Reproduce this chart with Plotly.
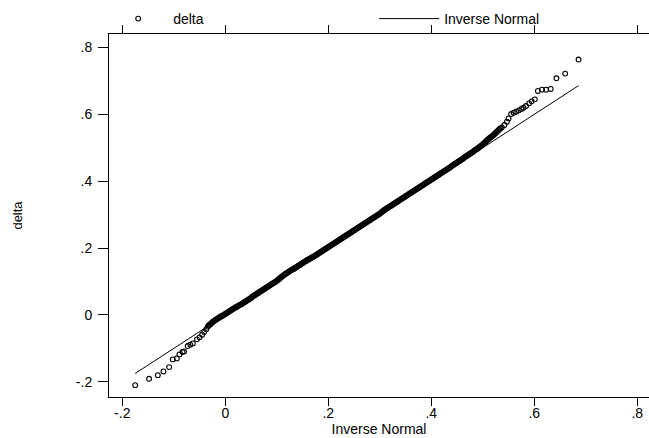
import plotly.graph_objects as go

# ---- data (qnorm plot of delta) ----
lower_x = [-0.175, -0.148, -0.131, -0.120, -0.109, -0.102, -0.094, -0.089, -0.083, -0.080,
           -0.073, -0.068, -0.063, -0.055, -0.050, -0.045, -0.041, -0.037, -0.034, -0.032]
lower_y = [-0.210, -0.191, -0.180, -0.169, -0.156, -0.133, -0.130, -0.118, -0.111, -0.109,
           -0.093, -0.089, -0.085, -0.073, -0.067, -0.059, -0.051, -0.043, -0.035, -0.031]

mid_x = [-0.030, -0.028, -0.026, -0.024, -0.022, -0.020, -0.018, -0.016, -0.014, -0.012,
         -0.010, -0.008, -0.006, -0.004, -0.002, 0.000, 0.002, 0.004, 0.006, 0.008,
         0.010, 0.012, 0.014, 0.016, 0.018, 0.020, 0.022, 0.024, 0.026, 0.028,
         0.030, 0.032, 0.034, 0.036, 0.038, 0.040, 0.042, 0.044, 0.046, 0.048,
         0.050, 0.052, 0.054, 0.056, 0.058, 0.060, 0.062, 0.064, 0.066, 0.068,
         0.070, 0.072, 0.074, 0.076, 0.078, 0.080, 0.082, 0.084, 0.086, 0.088,
         0.090, 0.092, 0.094, 0.096, 0.098, 0.100, 0.102, 0.104, 0.106, 0.108,
         0.110, 0.112, 0.114, 0.116, 0.118, 0.120, 0.122, 0.124, 0.126, 0.128,
         0.130, 0.132, 0.134, 0.136, 0.138, 0.140, 0.142, 0.144, 0.146, 0.148,
         0.150, 0.152, 0.154, 0.156, 0.158, 0.160, 0.162, 0.164, 0.166, 0.168,
         0.170, 0.172, 0.174, 0.176, 0.178, 0.180, 0.182, 0.184, 0.186, 0.188,
         0.190, 0.192, 0.194, 0.196, 0.198, 0.200, 0.202, 0.204, 0.206, 0.208,
         0.210, 0.212, 0.214, 0.216, 0.218, 0.220, 0.222, 0.224, 0.226, 0.228,
         0.230, 0.232, 0.234, 0.236, 0.238, 0.240, 0.242, 0.244, 0.246, 0.248,
         0.250, 0.252, 0.254, 0.256, 0.258, 0.260, 0.262, 0.264, 0.266, 0.268,
         0.270, 0.272, 0.274, 0.276, 0.278, 0.280, 0.282, 0.284, 0.286, 0.288,
         0.290, 0.292, 0.294, 0.296, 0.298, 0.300, 0.302, 0.304, 0.306, 0.308,
         0.310, 0.312, 0.314, 0.316, 0.318, 0.320, 0.322, 0.324, 0.326, 0.328,
         0.330, 0.332, 0.334, 0.336, 0.338, 0.340, 0.342, 0.344, 0.346, 0.348,
         0.350, 0.352, 0.354, 0.356, 0.358, 0.360, 0.362, 0.364, 0.366, 0.368,
         0.370, 0.372, 0.374, 0.376, 0.378, 0.380, 0.382, 0.384, 0.386, 0.388,
         0.390, 0.392, 0.394, 0.396, 0.398, 0.400, 0.402, 0.404, 0.406, 0.408,
         0.410, 0.412, 0.414, 0.416, 0.418, 0.420, 0.422, 0.424, 0.426, 0.428,
         0.430, 0.432, 0.434, 0.436, 0.438, 0.440, 0.442, 0.444, 0.446, 0.448,
         0.450, 0.452, 0.454, 0.456, 0.458, 0.460, 0.462, 0.464, 0.466, 0.468,
         0.470, 0.472, 0.474, 0.476, 0.478, 0.480, 0.482, 0.484, 0.486, 0.488,
         0.490, 0.492, 0.494, 0.496, 0.498, 0.500, 0.502, 0.504, 0.506, 0.508,
         0.510, 0.512, 0.514, 0.516, 0.518, 0.520, 0.522, 0.524, 0.526, 0.528,
         0.530, 0.532, 0.534]
mid_y = [-0.029, -0.026, -0.023, -0.020, -0.018, -0.016, -0.014, -0.012, -0.010, -0.008,
         -0.006, -0.004, -0.003, -0.001, 0.001, 0.003, 0.005, 0.007, 0.009, 0.011,
         0.013, 0.015, 0.017, 0.019, 0.021, 0.023, 0.024, 0.026, 0.028, 0.030,
         0.031, 0.033, 0.035, 0.037, 0.039, 0.041, 0.043, 0.045, 0.047, 0.049,
         0.051, 0.054, 0.056, 0.058, 0.060, 0.062, 0.064, 0.066, 0.068, 0.070,
         0.072, 0.074, 0.076, 0.078, 0.080, 0.082, 0.084, 0.086, 0.088, 0.090,
         0.092, 0.094, 0.096, 0.098, 0.100, 0.102, 0.105, 0.107, 0.110, 0.112,
         0.115, 0.117, 0.120, 0.122, 0.124, 0.126, 0.128, 0.130, 0.132, 0.134,
         0.136, 0.137, 0.139, 0.141, 0.143, 0.145, 0.147, 0.149, 0.151, 0.153,
         0.155, 0.157, 0.159, 0.161, 0.163, 0.165, 0.166, 0.168, 0.170, 0.172,
         0.173, 0.175, 0.177, 0.179, 0.181, 0.183, 0.185, 0.187, 0.189, 0.191,
         0.193, 0.195, 0.197, 0.199, 0.201, 0.203, 0.205, 0.207, 0.209, 0.211,
         0.213, 0.215, 0.217, 0.219, 0.221, 0.223, 0.225, 0.227, 0.229, 0.231,
         0.233, 0.235, 0.237, 0.239, 0.241, 0.243, 0.245, 0.247, 0.249, 0.251,
         0.253, 0.255, 0.257, 0.259, 0.261, 0.263, 0.265, 0.267, 0.269, 0.271,
         0.273, 0.275, 0.277, 0.279, 0.281, 0.283, 0.285, 0.287, 0.289, 0.291,
         0.293, 0.295, 0.297, 0.299, 0.301, 0.303, 0.306, 0.308, 0.310, 0.313,
         0.315, 0.317, 0.319, 0.321, 0.323, 0.325, 0.327, 0.329, 0.331, 0.333,
         0.335, 0.337, 0.339, 0.341, 0.343, 0.345, 0.347, 0.349, 0.351, 0.353,
         0.355, 0.357, 0.359, 0.361, 0.363, 0.365, 0.367, 0.369, 0.371, 0.373,
         0.375, 0.377, 0.379, 0.381, 0.383, 0.385, 0.387, 0.389, 0.391, 0.393,
         0.395, 0.397, 0.399, 0.401, 0.403, 0.405, 0.407, 0.409, 0.411, 0.413,
         0.415, 0.417, 0.419, 0.421, 0.423, 0.425, 0.427, 0.429, 0.431, 0.433,
         0.435, 0.437, 0.439, 0.441, 0.443, 0.446, 0.448, 0.450, 0.452, 0.454,
         0.456, 0.458, 0.460, 0.462, 0.464, 0.466, 0.468, 0.471, 0.473, 0.475,
         0.477, 0.479, 0.481, 0.483, 0.485, 0.487, 0.489, 0.492, 0.494, 0.496,
         0.498, 0.500, 0.503, 0.505, 0.508, 0.510, 0.513, 0.516, 0.519, 0.522,
         0.525, 0.527, 0.530, 0.532, 0.535, 0.537, 0.540, 0.543, 0.546, 0.549,
         0.552, 0.555, 0.558]

upper_x = [0.537, 0.542, 0.547, 0.550, 0.555, 0.560, 0.565, 0.570, 0.575, 0.579,
           0.584, 0.590, 0.595, 0.601, 0.607, 0.615, 0.623, 0.632, 0.643, 0.660, 0.686]
upper_y = [0.561, 0.568, 0.578, 0.588, 0.601, 0.605, 0.608, 0.612, 0.616, 0.620,
           0.625, 0.633, 0.639, 0.645, 0.670, 0.674, 0.674, 0.676, 0.708, 0.722, 0.764]

delta_x = lower_x + mid_x + upper_x
delta_y = lower_y + mid_y + upper_y

normal_x = [-0.175, 0.686]
normal_y = [-0.175, 0.686]

tick_vals = [-0.2, 0, 0.2, 0.4, 0.6, 0.8]
tick_text = ["-.2", "0", ".2", ".4", ".6", ".8"]

FONT = "Liberation Sans, Arial, sans-serif"

fig = go.Figure()
fig.add_trace(go.Scatter(
    x=delta_x, y=delta_y, mode="markers", name="delta",
    marker=dict(symbol="circle-open", size=4.8, color="black", line=dict(width=1.1, color="black")),
    legend="legend",
))
fig.add_trace(go.Scatter(
    x=normal_x, y=normal_y, mode="lines", name="Inverse Normal",
    line=dict(color="black", width=1),
    legend="legend2",
))

fig.update_layout(
    width=649, height=438,
    margin=dict(l=109, r=0, t=33.5, b=41.3, pad=0, autoexpand=False),
    paper_bgcolor="white", plot_bgcolor="white",
    font=dict(family=FONT, size=14, color="black"),
    showlegend=True,
    legend=dict(xref="container", yref="container", x=0.159, y=1 - 19 / 438,
                xanchor="left", yanchor="middle", itemwidth=60, orientation="h",
                font=dict(size=14), bgcolor="rgba(0,0,0,0)", borderwidth=0),
    legend2=dict(xref="container", yref="container", x=0.5765, y=1 - 19 / 438,
                 xanchor="left", yanchor="middle", itemwidth=60, orientation="h",
                 font=dict(size=14), bgcolor="rgba(0,0,0,0)", borderwidth=0),
    xaxis=dict(range=[-0.2258, 0.8228], tickvals=tick_vals, ticktext=tick_text,
               showgrid=False, zeroline=False, showline=True, linecolor="black", linewidth=1,
               mirror="ticks", ticks="outside", ticklen=8, tickcolor="black", tickwidth=1,
               automargin=False, tickangle=0, ticklabelstandoff=-5,
               title=dict(text="Inverse Normal", standoff=3, font=dict(size=14))),
    yaxis=dict(range=[-0.2454, 0.8404], tickvals=tick_vals, ticktext=tick_text,
               showgrid=False, zeroline=False, showline=True, linecolor="black", linewidth=1,
               mirror=False, ticks="outside", ticklen=10, tickcolor="black", tickwidth=1,
               automargin=False, ticklabelstandoff=3,
               title=dict(text="delta", standoff=50, font=dict(size=13))),
)

fig.write_html("out.html")
